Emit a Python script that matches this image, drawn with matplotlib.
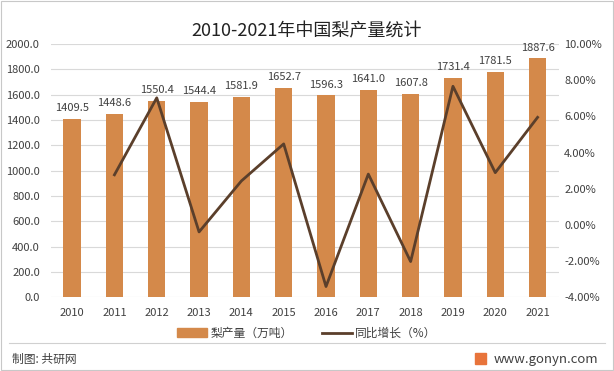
import matplotlib
matplotlib.use('Agg')
import matplotlib.pyplot as plt
from matplotlib.lines import Line2D
from matplotlib.patches import Patch, Rectangle

plt.rcParams['font.family'] = ['Noto Sans CJK SC', 'DejaVu Sans']

# 数据
years = ['2010', '2011', '2012', '2013', '2014', '2015',
         '2016', '2017', '2018', '2019', '2020', '2021']
output = [1409.5, 1448.6, 1550.4, 1544.4, 1581.9, 1652.7,
          1596.3, 1641.0, 1607.8, 1731.4, 1781.5, 1887.6]
growth_years = years[1:]
growth = [2.77, 7.03, -0.39, 2.43, 4.48, -3.41, 2.81, -2.03, 7.67, 2.89, 5.95]

bar_color = '#d4894a'
line_color = '#5b3f2b'
text_color = '#404040'

fig = plt.figure(figsize=(6.14, 3.71), dpi=100)
ax = fig.add_axes([0.083, 0.199, 0.827, 0.682])
x = list(range(len(years)))
ax.bar(x, output, width=0.41, color=bar_color, zorder=2)
for xi, v in zip(x, output):
    ax.text(xi, v + 45, f'{v:.1f}', ha='center', va='bottom', fontsize=8, color=text_color)
ax.set_ylim(0, 2000)
ax.set_yticks(range(0, 2001, 200))
ax.set_yticklabels([f'{v:.1f}' for v in range(0, 2001, 200)])
ax.set_xlim(-0.5, len(years) - 0.5)
ax.set_xticks(x)
ax.set_xticklabels(years)
ax.grid(axis='y', color='#d9d9d9', linewidth=0.8, zorder=0)
for s in ax.spines.values():
    s.set_visible(False)
ax.tick_params(length=0, labelsize=8, colors=text_color, pad=8)

ax2 = ax.twinx()
gx = [years.index(y) for y in growth_years]
ax2.plot(gx, growth, color=line_color, linewidth=2, zorder=3)
ax2.set_ylim(-4, 10)
ax2.set_yticks(range(-4, 11, 2))
ax2.set_yticklabels([f'{v:.2f}%' for v in range(-4, 11, 2)])
for s in ax2.spines.values():
    s.set_visible(False)
ax2.tick_params(length=0, labelsize=8, colors=text_color, pad=4)

fig.text(0.5, 0.89, '2010-2021年中国梨产量统计', ha='center', va='bottom', fontsize=13, color='#222222')

handles = [Patch(color=bar_color), Line2D([], [], color=line_color, linewidth=2)]
fig.legend(handles, ['梨产量（万吨）', '同比增长（%）'], loc='center', bbox_to_anchor=(0.5, 0.102),
           ncol=2, frameon=False, fontsize=8.5, handlelength=2.5, handleheight=0.7,
           columnspacing=2.5, handletextpad=0.3, labelcolor=text_color)

# 页脚
fig.add_artist(Line2D([0.015, 0.985], [0.075, 0.075], color='#d0d0d0', linewidth=0.8))
fig.text(0.02, 0.032, '制图: 共研网', fontsize=8.5, color=text_color, va='center')
fig.add_artist(Rectangle((0.773, 0.018), 0.018, 0.03, color='#e8743b'))
fig.text(0.975, 0.032, 'www.gonyn.com', fontsize=9.5, color=text_color, va='center', ha='right')
fig.add_artist(Rectangle((0.002, 0.003), 0.996, 0.994, fill=False, edgecolor='#c8c8c8', linewidth=0.8))

fig.savefig('out.png', dpi=100)
